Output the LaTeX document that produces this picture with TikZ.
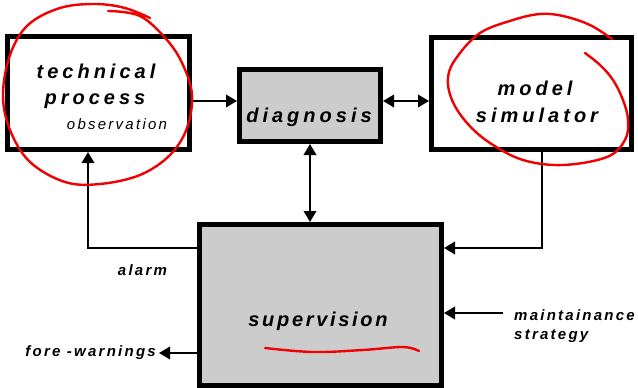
\documentclass[tikz,border=0pt]{standalone}
\usepackage{fontspec}
\setmainfont{Liberation Sans}
\newfontfamily\widefont[LetterSpace=20]{Liberation Sans}
\newfontfamily\midfont[LetterSpace=13.5]{Liberation Sans}
\newfontfamily\narrowfont[LetterSpace=15]{Liberation Sans}
\usetikzlibrary{arrows.meta}
\definecolor{boxgrey}{RGB}{204,204,204}
\definecolor{penred}{RGB}{240,0,0}

\begin{document}
\begin{tikzpicture}[x=1pt,y=-1pt,
  block/.style={draw=black, line width=5pt, rectangle, inner sep=0pt},
  greyblock/.style={block, fill=boxgrey},
  bigtext/.style={font=\widefont\bfseries\itshape\fontsize{20}{24}\selectfont, anchor=base, inner sep=0pt},
  smalltext/.style={font=\narrowfont\bfseries\itshape\fontsize{15}{18}\selectfont, anchor=base, inner sep=0pt},
  notetext/.style={font=\narrowfont\itshape\fontsize{15}{18}\selectfont, anchor=base, inner sep=0pt},
  tip/.style={Triangle[length=11pt,width=12.5pt]},
  arr/.style={line width=2pt, -{Triangle[length=11pt,width=12.5pt]}},
  dblarr/.style={line width=2pt, {Triangle[length=11pt,width=12.5pt]}-{Triangle[length=11pt,width=12.5pt]}},
  pen/.style={draw=penred, line width=2.4pt, line cap=round, line join=round}]

\useasboundingbox (0,0) rectangle (638,388);

% boxes
\node[block, minimum width=182pt, minimum height=113pt] (tp) at (98.5,93) {};
\node[greyblock, minimum width=141pt, minimum height=72pt] (diag) at (310,105.5) {};
\node[block, minimum width=200pt, minimum height=112pt] (model) at (531.5,93.5) {};
\node[greyblock, minimum width=242pt, minimum height=161pt] (sup) at (320.5,305) {};

% box texts
\node[bigtext] (tpA) at (96,78) {technical};
\node[bigtext] (tpB) at (95,104) {process};
\node[notetext] (tpC) at (117,129) {observation};
\node[bigtext] (diagT) at (309,122) {diagnosis};
\node[bigtext] (modelA) at (535,95) {model};
\node[bigtext] (modelB) at (537,122) {simulator};
\node[bigtext, font=\midfont\bfseries\itshape\fontsize{20}{24}\selectfont] (supT) at (318,326) {supervision};

% free labels
\node[smalltext] (alarm) at (142.5,275) {alarm};
\node[smalltext, anchor=base east] (fw) at (156,356) {fore -warnings};
\node[smalltext, anchor=base west] (mA) at (514,320) {maintainance};
\node[smalltext, anchor=base west] (mB) at (514,339) {strategy};

% helper coordinates for connector rows and columns
\coordinate (rowA) at (0,101);
\coordinate (rowB) at (0,248);
\coordinate (colA) at (88,0);
\coordinate (colB) at (542,0);
\coordinate (mstart) at (503,313);
\coordinate (fwend) at (159,353);

% connectors
\draw[arr] (tp.east |- rowA) -- (diag.west |- rowA);
\draw[dblarr] (diag.east |- rowA) -- (model.west |- rowA);
\draw[dblarr] (diag.south) -- (diag.south |- sup.north);
\draw[arr] (sup.west |- rowB) -| (tp.south -| colA);
\draw[arr] (model.south -| colB) |- (sup.east |- rowB);
\draw[arr] (mstart) -- (sup.east |- mstart);
\draw[arr] (sup.west |- fwend) -- (fwend);

% red pen marks
\draw[pen] plot[smooth, tension=0.6] coordinates {
  (108,11) (140,16) (167,40) (183,65) (192,95) (187,128) (170,155)
  (140,175) (100,184) (65,182) (30,162) (10,130) (3,95) (10,55)
  (28,25) (60,8) (95,4) (125,8) (150,18)};
\draw[pen] plot[smooth, tension=0.6] coordinates {
  (612,39) (590,25) (563,16) (540,14) (513,20) (480,33) (457,57)
  (448,77) (452,100) (467,123) (490,143) (523,160) (563,165)
  (607,157) (625,140) (628,120) (623,100) (613,80) (600,65) (585,53)};
\draw[pen] plot[smooth, tension=0.6] coordinates {
  (265,348) (313,352) (363,350) (403,347) (419,351)};

\end{tikzpicture}
\end{document}
